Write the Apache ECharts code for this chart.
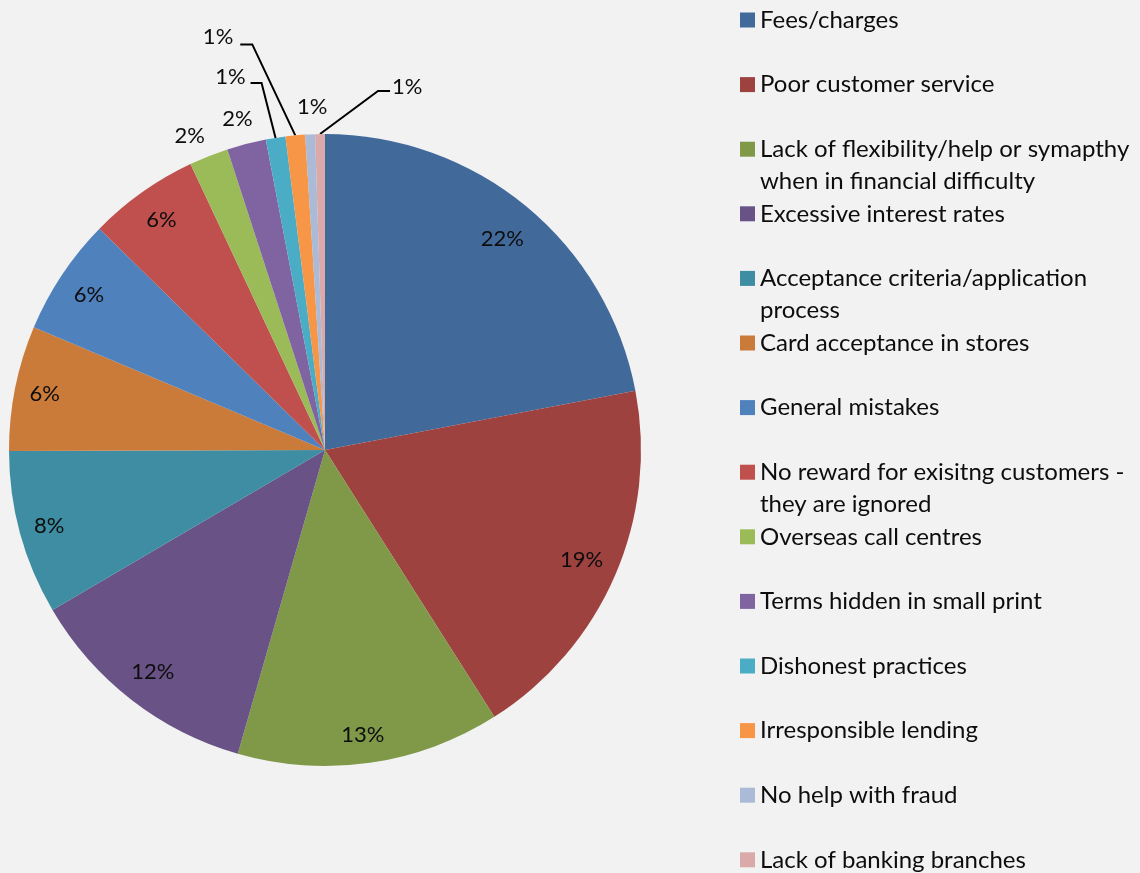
<!DOCTYPE html>
<html>
<head>
<meta charset="utf-8">
<script src="https://cdn.jsdelivr.net/npm/echarts@6/dist/echarts.min.js"></script>
<style>
  html, body { margin: 0; padding: 0; background: #f2f2f2; }
  #chart { width: 1140px; height: 873px; }
</style>
</head>
<body>
<div id="chart"></div>
<script>
// Reasons given for complaints, share of responses (%)
const categories = [
  'Fees/charges',
  'Poor customer service',
  'Lack of flexibility/help or symapthy\nwhen in financial difficulty',
  'Excessive interest rates',
  'Acceptance criteria/application\nprocess',
  'Card acceptance in stores',
  'General mistakes',
  'No reward for exisitng customers -\nthey are ignored',
  'Overseas call centres',
  'Terms hidden in small print',
  'Dishonest practices',
  'Irresponsible lending',
  'No help with fraud',
  'Lack of banking branches'
];
const shares = [22.0, 19.0, 13.45, 12.1, 8.4, 6.4, 6.0, 5.65, 2.0, 2.0, 1.0, 1.0, 0.5, 0.5];

const palette = [
  '#416a9b', '#9d423f', '#7f9949', '#695285', '#3e8da2', '#cb7b39',
  '#4f81bd', '#c0504d', '#9bbb59', '#8064a2', '#4bacc6', '#f79646',
  '#aabad7', '#d9aaa9'
];

// Pie geometry (pixels)
const CX = 325, CY = 450, R = 316;
const TEXT = '#0d0d0d';
const FONT = 'Lato';

// Slices whose labels sit outside the pie, with offsets from the
// slice's outer edge point: label anchor, and optional leader line bend/end.
const outerLabels = {
  8:  { label: [-19, -20], align: 'center' },
  9:  { label: [-9, -25], align: 'center' },
  10: { bend: [-14, -55], end: [-25, -55], label: [-30, -61], align: 'right' },
  11: { bend: [-43, -91], end: [-55, -91], label: [-62, -98], align: 'right' },
  12: { label: [2, -27], align: 'center' },
  13: { bend: [58, -43], end: [70, -43], label: [72, -47], align: 'left' }
};
// Small nudges for some in-slice labels
const innerNudge = {
  0: [-5, 9],
  1: [-6, -4],
  2: [-3, 2],
  3: [3, -4],
  6: [2, 3],
  7: [2, 3]
};

const total = shares.reduce((a, b) => a + b, 0);
function edgePoint(i) {
  let acc = 0;
  for (let j = 0; j < i; j++) acc += shares[j];
  const a = (acc + shares[i] / 2) / total * Math.PI * 2;
  return [CX + R * Math.sin(a), CY - R * Math.cos(a)];
}
const pct = v => Math.round(v) + '%';

const sliceData = categories.map((name, i) => {
  const spot = outerLabels[i];
  return {
    name: name,
    value: shares[i],
    label: { show: !!spot },
    labelLine: { show: !!(spot && spot.bend) }
  };
});

// Transparent ring used only to carry the in-slice percentage labels
const ringData = categories.map((name, i) => ({
  name: name,
  value: shares[i],
  label: { show: !outerLabels[i] }
}));

const legendText = {
  fontFamily: FONT,
  fontSize: 24,
  lineHeight: 32,
  color: TEXT
};
const legendBase = {
  orient: 'vertical',
  left: 740,
  height: 900,
  padding: 0,
  itemWidth: 15,
  itemHeight: 15,
  itemGap: 32.6,
  icon: 'rect',
  selectedMode: false,
  data: categories,
  textStyle: legendText
};

const chart = echarts.init(document.getElementById('chart'), null, { renderer: 'canvas' });
chart.setOption({
  backgroundColor: '#f2f2f2',
  color: palette,
  animation: false,
  legend: [
    // swatches with the first line of each name
    Object.assign({}, legendBase, {
      top: 4,
      formatter: name => name.split('\n')[0]
    }),
    // continuation lines of the wrapped names, one row lower
    Object.assign({}, legendBase, {
      top: 36,
      itemStyle: { color: 'rgba(0,0,0,0)', borderWidth: 0, opacity: 0 },
      formatter: name => name.split('\n')[1] || ' '
    })
  ],
  series: [
    {
      type: 'pie',
      center: [CX, CY],
      radius: [0, R],
      startAngle: 90,
      clockwise: true,
      avoidLabelOverlap: false,
      silent: true,
      itemStyle: { borderWidth: 0 },
      label: {
        position: 'outside',
        formatter: p => pct(p.value),
        fontFamily: FONT,
        fontSize: 22,
        color: TEXT
      },
      labelLine: {
        show: false,
        lineStyle: { color: '#000', width: 2 }
      },
      labelLayout: function (params) {
        const i = params.dataIndex;
        const spot = outerLabels[i];
        if (!spot) return;
        const p0 = edgePoint(i);
        const out = {
          x: p0[0] + spot.label[0],
          y: p0[1] + spot.label[1],
          align: spot.align,
          verticalAlign: 'middle'
        };
        if (spot.bend) {
          out.labelLinePoints = [
            [p0[0], p0[1]],
            [p0[0] + spot.bend[0], p0[1] + spot.bend[1]],
            [p0[0] + spot.end[0], p0[1] + spot.end[1]]
          ];
        }
        return out;
      },
      data: sliceData
    },
    {
      type: 'pie',
      center: [CX, CY],
      radius: [250, R],
      startAngle: 90,
      clockwise: true,
      avoidLabelOverlap: false,
      silent: true,
      z: 3,
      itemStyle: { color: 'rgba(0,0,0,0)', borderWidth: 0 },
      label: {
        position: 'inside',
        formatter: p => pct(p.value),
        fontFamily: FONT,
        fontSize: 22,
        color: TEXT
      },
      labelLine: { show: false },
      labelLayout: function (params) {
        const n = innerNudge[params.dataIndex];
        if (!n) return;
        return { dx: n[0], dy: n[1] };
      },
      data: ringData
    }
  ]
});
</script>
</body>
</html>
